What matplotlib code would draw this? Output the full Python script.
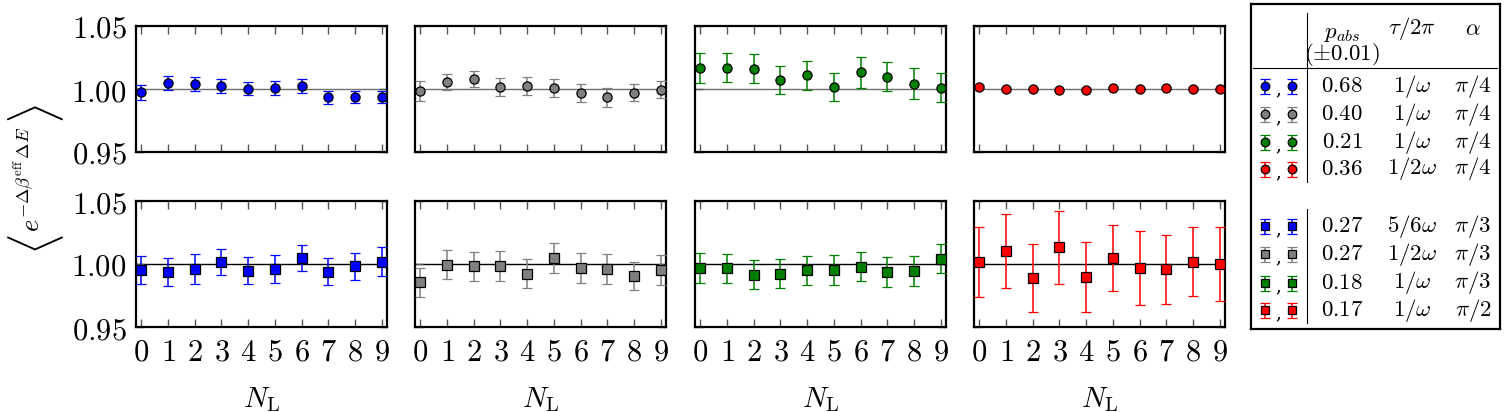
import numpy as np
import matplotlib
matplotlib.use('Agg')
import matplotlib.pyplot as plt
from matplotlib.ticker import FuncFormatter

plt.rcParams['mathtext.fontset'] = 'cm'
plt.rcParams['font.family'] = 'serif'

n_layers = list(range(10))

# top row: circles (alpha = pi/4)
top_blue = [0.9974, 1.0045, 1.0040, 1.0021, 1.0003, 1.0008, 1.0021, 0.9934, 0.9939, 0.9936]
top_blue_err = [0.0058, 0.0056, 0.0055, 0.0055, 0.0052, 0.0052, 0.0055, 0.0050, 0.0048, 0.0050]
top_gray = [0.9984, 1.0056, 1.0080, 1.0016, 1.0024, 1.0008, 0.9968, 0.9934, 0.9971, 0.9995]
top_gray_err = [0.0080, 0.0067, 0.0066, 0.0075, 0.0072, 0.0073, 0.0073, 0.0074, 0.0065, 0.0069]
top_green = [1.0167, 1.0167, 1.0159, 1.0072, 1.0109, 1.0016, 1.0133, 1.0098, 1.0042, 1.0011]
top_green_err = [0.0117, 0.0115, 0.0115, 0.0114, 0.0114, 0.0114, 0.0122, 0.0117, 0.0125, 0.0118]
top_red = [1.0019, 0.9997, 1.0000, 0.9992, 0.9995, 1.0008, 1.0000, 1.0008, 1.0003, 0.9997]
top_red_err = [0.0010, 0.0010, 0.0010, 0.0010, 0.0010, 0.0010, 0.0010, 0.0010, 0.0010, 0.0010]

# bottom row: squares
bot_blue = [0.9950, 0.9936, 0.9960, 1.0013, 0.9947, 0.9960, 1.0048, 0.9939, 0.9981, 1.0019]
bot_blue_err = [0.0111, 0.0109, 0.0117, 0.0103, 0.0107, 0.0110, 0.0103, 0.0107, 0.0110, 0.0114]
bot_gray = [0.9854, 0.9995, 0.9984, 0.9987, 0.9923, 1.0048, 0.9968, 0.9960, 0.9905, 0.9952]
bot_gray_err = [0.0117, 0.0115, 0.0115, 0.0119, 0.0113, 0.0120, 0.0120, 0.0118, 0.0114, 0.0122]
bot_green = [0.9968, 0.9966, 0.9913, 0.9923, 0.9950, 0.9952, 0.9979, 0.9936, 0.9947, 1.0042]
bot_green_err = [0.0117, 0.0114, 0.0115, 0.0115, 0.0115, 0.0118, 0.0114, 0.0117, 0.0118, 0.0115]
bot_red = [1.0016, 1.0103, 0.9889, 1.0133, 0.9897, 1.0050, 0.9971, 0.9960, 1.0019, 1.0000]
bot_red_err = [0.0281, 0.0294, 0.0270, 0.0289, 0.0276, 0.0261, 0.0293, 0.0274, 0.0273, 0.0292]

colors = ['#0000ff', '#808080', '#008000', '#ff0000']
top_series = [(top_blue, top_blue_err), (top_gray, top_gray_err),
              (top_green, top_green_err), (top_red, top_red_err)]
bot_series = [(bot_blue, bot_blue_err), (bot_gray, bot_gray_err),
              (bot_green, bot_green_err), (bot_red, bot_red_err)]

# table
p_abs = ['0.68', '0.40', '0.21', '0.36', '0.27', '0.27', '0.18', '0.17']
tau_labels = [r'1/\omega', r'1/\omega', r'1/\omega', r'1/2\omega',
              r'5/6\omega', r'1/2\omega', r'1/\omega', r'1/\omega']
alpha_labels = [r'\pi/4', r'\pi/4', r'\pi/4', r'\pi/4',
                r'\pi/3', r'\pi/3', r'\pi/3', r'\pi/2']

W, H = 1506, 412
fig = plt.figure(figsize=(W / 100, H / 100), dpi=100)

lefts = [136, 415, 695, 974]
aw, ah = 251, 126
tops = [26, 201]


def style(ax, first_col, line_col):
    ax.axhline(1.0, color=line_col, lw=1.0, zorder=1)
    ax.set_xlim(-0.2, 9.2)
    ax.set_ylim(0.95, 1.05)
    ax.set_xticks(n_layers)
    ax.set_yticks([0.95, 1.00, 1.05])
    ax.tick_params(direction='in', top=True, right=True, length=6, width=1,
                   color='#555555', labelsize=22, pad=7)
    ax.xaxis.set_major_formatter(FuncFormatter(lambda v, p: '$%d$' % v))
    ax.yaxis.set_major_formatter(FuncFormatter(lambda v, p: '$%.2f$' % v))
    if not first_col:
        ax.set_yticklabels([])
    for s in ax.spines.values():
        s.set_linewidth(1.6)


for row, (series, marker) in enumerate([(top_series, 'o'), (bot_series, 's')]):
    for col, ((vals, errs), c) in enumerate(zip(series, colors)):
        l = lefts[col] / W
        b = (H - tops[row] - ah) / H
        ax = fig.add_axes([l, b, aw / W, ah / H])
        line_col = '#707070' if row == 0 else 'k'
        style(ax, col == 0, line_col)
        ax.errorbar(n_layers, vals, yerr=errs, fmt=marker, color=c, mfc=c,
                    mec='k', mew=0.9, ms=6.6, elinewidth=1.1, capsize=3.5,
                    capthick=1.1, ecolor=c, zorder=3)
        if row == 0:
            ax.set_xticklabels([])
        else:
            ax.set_xlabel(r'$N_{\rm L}$', fontsize=21)
            ax.xaxis.set_label_coords(0.5, -0.46)

# y label: big angle brackets drawn separately
fig.text(0.020, 0.565, r'$e^{-\Delta\beta^{\rm eff}\,\Delta E}$',
         rotation=90, ha='center', va='center', fontsize=19)
fig.text(0.024, 0.405, r'$\langle$', rotation=90, ha='center', va='center',
         fontsize=34)
fig.text(0.024, 0.722, r'$\rangle$', rotation=90, ha='center', va='center',
         fontsize=34)

# legend table
tx0, ty0, tx1, ty1 = 1251, 4, 1500, 329
tab = fig.add_axes([tx0 / W, (H - ty1) / H, (tx1 - tx0) / W, (ty1 - ty0) / H])
tab.set_xlim(0, tx1 - tx0)
tab.set_ylim(ty1 - ty0, 0)
tab.set_xticks([])
tab.set_yticks([])
for s in tab.spines.values():
    s.set_linewidth(1.6)

tab.plot([55.7, 55.7], [9, 178], color='k', lw=0.8)
tab.plot([55.7, 55.7], [205, 319], color='k', lw=0.8)
tab.plot([2, 246], [64, 64], color='k', lw=0.8)

fs = 16.5
tab.text(91, 29, r'$p_{abs}$', ha='center', va='center', fontsize=fs)
tab.text(91, 51, r'$(\pm0.01)$', ha='center', va='center', fontsize=fs)
tab.text(161, 25, r'$\tau/2\pi$', ha='center', va='center', fontsize=fs)
tab.text(222, 25, r'$\alpha$', ha='center', va='center', fontsize=fs)

row_y = [82, 110, 138, 165, 222, 250, 279, 306]
for i in range(8):
    y = row_y[i]
    c = colors[i % 4]
    m = 'o' if i < 4 else 's'
    tab.errorbar([14, 41], [y, y], yerr=7.5, fmt=m, color=c, mfc=c, mec='k',
                 mew=0.9, ms=6.2, elinewidth=1.1, capsize=3.5, capthick=1.1)
    tab.text(27.5, y + 3, ',', ha='center', va='center', fontsize=13)
    tab.text(91, y, '$%s$' % p_abs[i], ha='center', va='center', fontsize=fs)
    tab.text(161, y, '$%s$' % tau_labels[i], ha='center', va='center', fontsize=fs)
    tab.text(222, y, '$%s$' % alpha_labels[i], ha='center', va='center', fontsize=fs)

plt.savefig('out.png', dpi=100)
